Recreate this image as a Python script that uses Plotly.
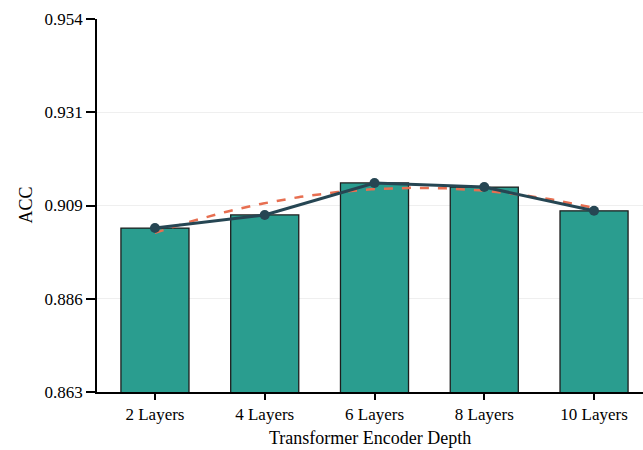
import numpy as np
import plotly.graph_objects as go

categories = ["2 Layers", "4 Layers", "6 Layers", "8 Layers", "10 Layers"]
acc = [0.9030, 0.9062, 0.9140, 0.9130, 0.9072]
y_ticks = [0.863, 0.88575, 0.9085, 0.93125, 0.954]
y_tick_labels = ["0.863", "0.886", "0.909", "0.931", "0.954"]

xpos = np.arange(len(categories))
coef = np.polyfit(xpos, acc, 2)
xs = np.linspace(xpos[0], xpos[-1], 200)
trend = np.polyval(coef, xs)

font = "Liberation Serif, Times New Roman, serif"

fig = go.Figure()
fig.add_trace(go.Bar(
    x=xpos, y=acc, width=0.62,
    marker=dict(color="#2a9d8f", line=dict(color="#1d1d1d", width=1.3)),
    showlegend=False,
))
fig.add_trace(go.Scatter(
    x=xs, y=trend, mode="lines",
    line=dict(color="#e76f51", width=2.5, dash="dash"),
    showlegend=False,
))
fig.add_trace(go.Scatter(
    x=xpos, y=acc, mode="lines+markers",
    line=dict(color="#264653", width=3),
    marker=dict(color="#264653", size=10),
    showlegend=False,
))

fig.update_layout(
    width=643, height=450,
    margin=dict(l=97, r=0, t=19, b=58, autoexpand=False),
    plot_bgcolor="white", paper_bgcolor="white",
    font=dict(family=font, size=17, color="black"),
    annotations=[
        dict(text="Transformer Encoder Depth", xref="paper", yref="paper",
             x=0.5, y=0, yshift=-46, xanchor="center", yanchor="middle",
             showarrow=False, font=dict(size=18)),
        dict(text="ACC", xref="paper", yref="paper",
             x=0, y=0.5, xshift=-72, xanchor="center", yanchor="middle",
             textangle=-90, showarrow=False, font=dict(size=18)),
    ],
)
fig.update_xaxes(
    range=[-0.528, 4.446], automargin=False,
    tickvals=list(xpos), ticktext=categories,
    showline=True, linecolor="black", linewidth=1.5,
    ticks="outside", ticklen=6, tickwidth=1.5, tickcolor="black",
    showgrid=False, zeroline=False,
    tickfont=dict(size=17),
)
fig.update_yaxes(
    range=[0.863, 0.954], automargin=False,
    tickvals=y_ticks, ticktext=y_tick_labels,
    showline=True, linecolor="black", linewidth=1.5,
    ticks="outside", ticklen=9, tickwidth=1.5, tickcolor="black",
    showgrid=True, gridcolor="#efefef", gridwidth=1, zeroline=False,
    tickfont=dict(size=17),
)

fig.write_html("out.html", config={"displayModeBar": False},
               post_script="document.body.style.margin='0';")
